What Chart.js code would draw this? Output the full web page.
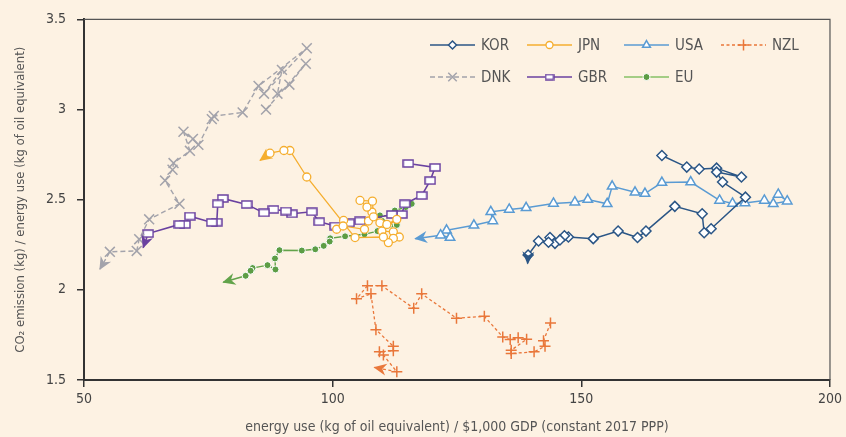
<!DOCTYPE html>
<html>
<head>
<meta charset="utf-8">
<script src="https://cdn.jsdelivr.net/npm/chart.js@4.4.1/dist/chart.umd.min.js"></script>
<style>
  html, body { margin: 0; padding: 0; background: #fdf2e3; }
</style>
</head>
<body>
<canvas id="co2-chart" width="846" height="437"></canvas>
<script>
// energy use per $1,000 GDP (x) vs CO2 per energy use (y); last point of each series is the arrow tip
const korX = [166.2, 171.2, 173.7, 177.2, 182.2, 177.2, 178.4, 183.0, 176.1, 174.7, 174.3, 168.8, 163.0, 161.3, 157.4, 152.4, 147.4, 146.6, 144.7, 145.7, 143.7, 143.4, 141.4, 139.3, 139.2];
const korY = [2.745, 2.681, 2.670, 2.675, 2.626, 2.653, 2.598, 2.514, 2.339, 2.317, 2.422, 2.463, 2.326, 2.290, 2.326, 2.284, 2.293, 2.300, 2.258, 2.277, 2.290, 2.264, 2.271, 2.193, 2.146];

const jpnX = [100.8, 102.2, 102.1, 106.4, 107.2, 107.9, 106.9, 105.5, 108.0, 108.2, 109.5, 110.9, 112.9, 109.9, 112.2, 113.4, 112.2, 111.2, 110.2, 104.5, 94.8, 91.4, 90.2, 87.4, 85.4];
const jpnY = [2.336, 2.385, 2.354, 2.336, 2.382, 2.431, 2.459, 2.496, 2.492, 2.405, 2.372, 2.363, 2.391, 2.326, 2.322, 2.293, 2.286, 2.262, 2.293, 2.290, 2.626, 2.773, 2.773, 2.758, 2.718];

const usaX = [189.6, 191.4, 188.6, 186.8, 182.9, 180.4, 177.8, 172.0, 166.2, 162.8, 160.8, 156.2, 155.2, 151.3, 148.7, 144.4, 138.9, 135.5, 131.8, 132.2, 128.4, 122.9, 123.6, 121.7, 116.6];
const usaY = [2.529, 2.492, 2.477, 2.496, 2.482, 2.479, 2.496, 2.598, 2.595, 2.534, 2.541, 2.574, 2.477, 2.501, 2.486, 2.479, 2.455, 2.446, 2.433, 2.382, 2.358, 2.330, 2.290, 2.303, 2.284];

const nzlX = [143.8, 142.4, 142.7, 140.5, 135.9, 135.9, 139.0, 137.3, 135.7, 134.2, 130.5, 124.9, 117.9, 116.3, 109.9, 107.0, 104.8, 107.7, 108.7, 112.2, 112.2, 109.4, 110.2, 112.9, 108.4];
const nzlY = [1.816, 1.717, 1.687, 1.656, 1.647, 1.665, 1.726, 1.735, 1.724, 1.739, 1.853, 1.843, 1.978, 1.898, 2.023, 2.023, 1.950, 1.978, 1.779, 1.687, 1.662, 1.656, 1.638, 1.546, 1.570];

const dnkX = [86.6, 94.6, 91.3, 88.9, 89.8, 86.2, 94.8, 85.1, 81.9, 76.1, 75.7, 73.0, 71.9, 70.0, 71.3, 68.0, 67.8, 66.3, 69.2, 63.1, 61.1, 60.6, 55.2, 53.2];
const dnkY = [3.000, 3.254, 3.138, 3.088, 3.220, 3.088, 3.340, 3.131, 2.984, 2.964, 2.947, 2.804, 2.837, 2.877, 2.771, 2.703, 2.666, 2.606, 2.477, 2.391, 2.281, 2.216, 2.211, 2.115];

const gbrX = [115.2, 120.6, 119.6, 117.9, 114.5, 113.9, 111.9, 105.5, 103.3, 100.5, 97.3, 95.8, 91.8, 90.6, 88.1, 86.2, 82.7, 77.9, 76.9, 76.7, 75.7, 71.3, 70.3, 69.2, 62.9, 61.9];
const gbrY = [2.701, 2.679, 2.606, 2.523, 2.477, 2.418, 2.418, 2.382, 2.371, 2.354, 2.378, 2.433, 2.422, 2.437, 2.446, 2.427, 2.474, 2.507, 2.477, 2.375, 2.374, 2.409, 2.363, 2.363, 2.312, 2.234];

const euX = [115.9, 114.7, 112.5, 112.9, 109.5, 111.2, 112.9, 109.0, 106.4, 102.5, 99.5, 99.4, 98.2, 96.5, 93.8, 89.3, 88.4, 88.5, 86.9, 83.9, 83.5, 82.5, 78.0];
const euY = [2.477, 2.459, 2.440, 2.404, 2.413, 2.363, 2.360, 2.326, 2.308, 2.297, 2.286, 2.268, 2.244, 2.225, 2.218, 2.220, 2.174, 2.113, 2.137, 2.121, 2.106, 2.078, 2.042];

const FONT = "'Liberation Sans Narrow', 'Arial Narrow', 'DejaVu Sans Condensed', sans-serif";
const BG = '#fdf2e3';

function toPoints(xs, ys) {
    return xs.map((x, i) => ({x: x, y: ys[i]}));
}

// no marker on the arrow tip
const noTip = r => ctx => ctx.dataIndex === ctx.dataset.data.length - 1 ? 0 : r;

function makeRect(w, h, color) {
    const c = document.createElement('canvas');
    c.width = w + 2;
    c.height = h + 2;
    const g = c.getContext('2d');
    g.fillStyle = '#fff';
    g.strokeStyle = color;
    g.lineWidth = 1.5;
    g.fillRect(1, 1, w, h);
    g.strokeRect(1, 1, w, h);
    return c;
}

const GBR_C = '#6a41a0';
const gbrMark = makeRect(10, 7, GBR_C);
const gbrMarkSmall = makeRect(8, 5, GBR_C);

const datasets = [
    {label: 'KOR', data: toPoints(korX, korY), borderColor: '#2b5686', pointBorderColor: '#2b5686', pointBackgroundColor: '#fff',
     pointStyle: 'rectRot', pointRadius: noTip(5), pointBorderWidth: 1.5, borderWidth: 1.5, legendRadius: 4},
    {label: 'JPN', data: toPoints(jpnX, jpnY), borderColor: '#f5ae2f', pointBorderColor: '#f5ae2f', pointBackgroundColor: '#fff',
     pointStyle: 'circle', pointRadius: noTip(4), pointBorderWidth: 1.3, borderWidth: 1.3, legendRadius: 3.5},
    {label: 'USA', data: toPoints(usaX, usaY), borderColor: '#5a9bd3', pointBorderColor: '#5a9bd3', pointBackgroundColor: '#fff',
     pointStyle: 'triangle', pointRadius: noTip(5.5), pointBorderWidth: 1.5, borderWidth: 1.5, legendRadius: 4.5},
    {label: 'NZL', data: toPoints(nzlX, nzlY), borderColor: '#e9773a', pointBorderColor: '#e9773a', pointBackgroundColor: '#e9773a',
     pointStyle: 'cross', pointRadius: noTip(5.5), pointBorderWidth: 1.5, borderWidth: 1.3, borderDash: [3, 2.5], legendRadius: 5.5},
    {label: 'DNK', data: toPoints(dnkX, dnkY), borderColor: '#a3a3ab', pointBorderColor: '#a3a3ab', pointBackgroundColor: '#a3a3ab',
     pointStyle: 'crossRot', pointRadius: noTip(7), pointBorderWidth: 1.5, borderWidth: 1.4, borderDash: [5, 3], legendRadius: 6},
    {label: 'GBR', data: toPoints(gbrX, gbrY), borderColor: GBR_C, pointBorderColor: GBR_C, pointBackgroundColor: '#fff',
     pointStyle: ctx => ctx.dataIndex === ctx.dataset.data.length - 1 ? false : gbrMark, pointRadius: noTip(6),
     pointBorderWidth: 1.5, borderWidth: 1.6, legendStyle: gbrMarkSmall},
    {label: 'EU', data: toPoints(euX, euY), borderColor: '#62a34a', pointBorderColor: '#fff', pointBackgroundColor: '#5c9d45',
     pointStyle: 'circle', pointRadius: noTip(3.5), pointBorderWidth: 1, borderWidth: 1.4, legendRadius: 3.5, legendLine: '#86c066'}
];
datasets.forEach(ds => { ds.showLine = true; ds.tension = 0; ds.fill = false; });

const background = {
    id: 'background',
    beforeDraw(chart) {
        const ctx = chart.ctx;
        ctx.save();
        ctx.fillStyle = BG;
        ctx.fillRect(0, 0, chart.width, chart.height);
        ctx.restore();
    },
    afterDraw(chart) {
        // thin top and right frame
        const {left, top, right, bottom} = chart.chartArea;
        const ctx = chart.ctx;
        ctx.save();
        ctx.strokeStyle = '#555';
        ctx.lineWidth = 1.2;
        ctx.beginPath();
        ctx.moveTo(left, top);
        ctx.lineTo(right, top);
        ctx.lineTo(right, bottom);
        ctx.stroke();
        ctx.restore();
    }
};

const arrows = {
    id: 'arrows',
    afterDatasetsDraw(chart) {
        const ctx = chart.ctx;
        chart.data.datasets.forEach((ds, i) => {
            const pts = chart.getDatasetMeta(i).data;
            const tip = pts[pts.length - 1], prev = pts[pts.length - 2];
            const a = Math.atan2(tip.y - prev.y, tip.x - prev.x);
            ctx.save();
            ctx.translate(tip.x, tip.y);
            ctx.rotate(a);
            ctx.fillStyle = ds.borderColor;
            ctx.beginPath();
            ctx.moveTo(1, 0);
            ctx.lineTo(-12, -6);
            ctx.lineTo(-8, 0);
            ctx.lineTo(-12, 6);
            ctx.closePath();
            ctx.fill();
            ctx.restore();
        });
    }
};

const insideLegend = {
    id: 'insideLegend',
    afterDraw(chart) {
        const ctx = chart.ctx;
        const colX = [430, 527, 624, 721];
        const rowY = [45, 77];
        chart.data.datasets.forEach((ds, i) => {
            const x = colX[i < 4 ? i : i - 4];
            const y = rowY[i < 4 ? 0 : 1];
            ctx.save();
            ctx.strokeStyle = ds.legendLine || ds.borderColor;
            ctx.lineWidth = ds.borderWidth;
            ctx.setLineDash(ds.borderDash || []);
            ctx.beginPath();
            ctx.moveTo(x, y);
            ctx.lineTo(x + 45, y);
            ctx.stroke();
            ctx.setLineDash([]);
            ctx.fillStyle = ds.pointBackgroundColor;
            ctx.strokeStyle = ds.pointBorderColor;
            ctx.lineWidth = ds.pointBorderWidth;
            Chart.helpers.drawPoint(ctx, {
                pointStyle: ds.legendStyle || ds.pointStyle,
                radius: ds.legendRadius || 4,
                rotation: 0,
                borderWidth: ds.pointBorderWidth
            }, x + 22.5, y);
            ctx.fillStyle = '#555';
            ctx.font = '15px ' + FONT;
            ctx.textBaseline = 'middle';
            ctx.fillText(ds.label, x + 51, y + 1);
            ctx.restore();
        });
    }
};

new Chart(document.getElementById('co2-chart'), {
    type: 'scatter',
    data: {datasets: datasets},
    plugins: [background, arrows, insideLegend],
    options: {
        responsive: false,
        animation: false,
        layout: {padding: {top: 17, right: 16, left: 0, bottom: 0}},
        plugins: {legend: {display: false}, tooltip: {enabled: false}},
        scales: {
            x: {
                type: 'linear', min: 50, max: 200,
                afterFit(s) { s.height = 57; },
                ticks: {stepSize: 50, padding: 4, color: '#444', font: {family: FONT, size: 14}},
                grid: {drawOnChartArea: false, tickLength: 7, color: '#333', lineWidth: 1.5},
                border: {color: '#333', width: 2},
                title: {display: true, text: 'energy use (kg of oil equivalent) / $1,000 GDP (constant 2017 PPP)',
                        color: '#555', font: {family: FONT, size: 14}, padding: {top: 0, bottom: 1}}
            },
            y: {
                min: 1.5, max: 3.5,
                afterFit(s) { s.width = 84; },
                ticks: {stepSize: 0.5, padding: 11, color: '#444', font: {family: FONT, size: 14},
                        callback: v => String(v)},
                grid: {drawOnChartArea: false, tickLength: 7, color: '#333', lineWidth: 1.5},
                border: {color: '#333', width: 2},
                title: {display: true, text: 'CO\u2082 emission (kg) / energy use (kg of oil equivalent)',
                        color: '#555', font: {family: FONT, size: 13}, padding: {top: 13, bottom: 0}}
            }
        }
    }
});
</script>
</body>
</html>
